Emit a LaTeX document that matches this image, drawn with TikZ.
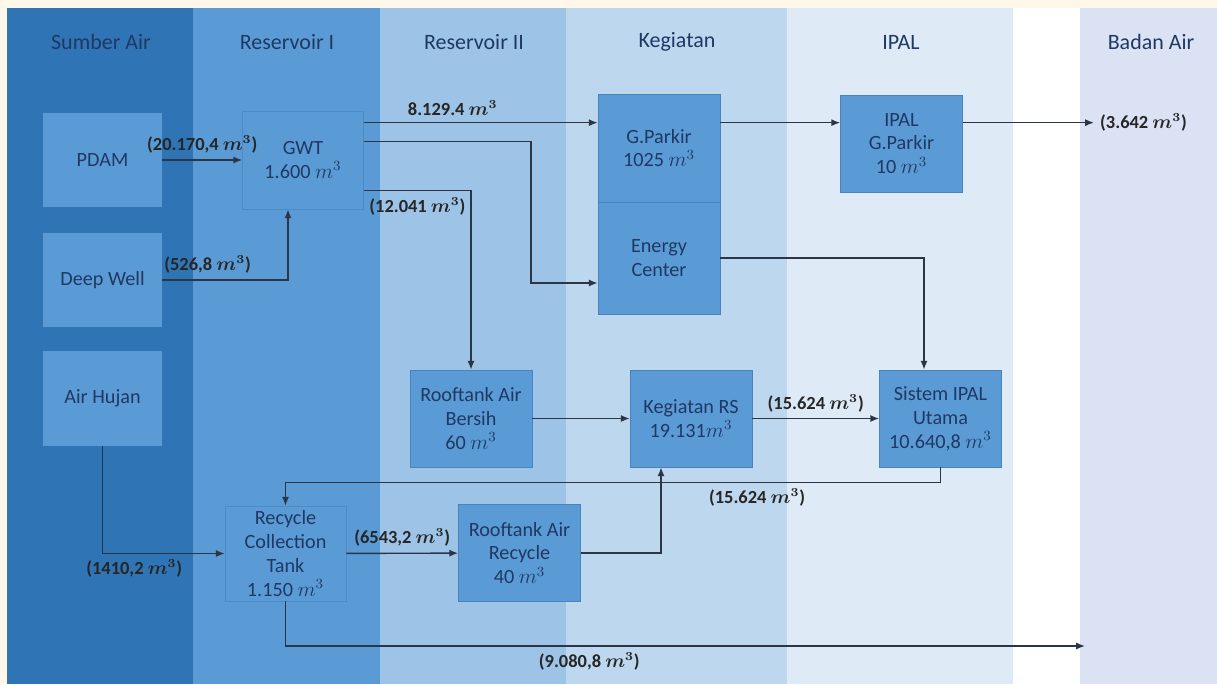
\documentclass[tikz,border=0pt]{standalone}
\usepackage{fontspec}
\setmainfont{Carlito}
\usepackage{tikz}
\usetikzlibrary{positioning, arrows.meta}
\definecolor{cream}{HTML}{FFF8EA}
\definecolor{srcband}{HTML}{2F74B5}
\definecolor{res1band}{HTML}{5B9BD5}
\definecolor{res2band}{HTML}{9DC3E6}
\definecolor{kegband}{HTML}{BDD7EE}
\definecolor{ipalband}{HTML}{DEEBF7}
\definecolor{badanband}{HTML}{DAE2F3}
\definecolor{boxblue}{HTML}{5B9BD5}
\definecolor{tankline}{HTML}{4C8BC9}
\definecolor{unitline}{HTML}{4A83BC}
\definecolor{navytext}{HTML}{1F3864}
\definecolor{flowline}{HTML}{2B3545}

\begin{document}
\begin{tikzpicture}[
  x=0.02cm, y=-0.02cm,
  header/.style={
    font=\fontsize{12.5}{15}\selectfont, text=navytext
  },
  srcbox/.style={
    fill=boxblue, minimum width=2.38cm, minimum height=1.9cm,
    align=center, font=\fontsize{11.5}{13.6}\selectfont,
    text=navytext, inner sep=1pt
  },
  tank/.style={
    draw=tankline, fill=res1band, thin,
    minimum width=2.42cm, minimum height=1.9cm,
    align=center, font=\fontsize{11.5}{13.6}\selectfont,
    text=navytext, inner sep=1pt
  },
  unit/.style={
    draw=unitline, fill=boxblue, thin,
    minimum width=2.44cm, minimum height=1.94cm,
    align=center, font=\fontsize{11.5}{13.6}\selectfont,
    text=navytext, inner sep=1pt
  },
  flow/.style={-{Latex[length=5pt, width=4pt]}, line width=0.8pt, flowline},
  qty/.style={font=\fontsize{10.5}{12.5}\selectfont\bfseries\boldmath, text=black!85}
]

% ---- Latar & kolom ----
\useasboundingbox (0,0) rectangle (1217,684);
\fill[cream] (0,0) rectangle (1217,684);
\fill[srcband] (7,8) rectangle (193,684);
\fill[res1band] (193,8) rectangle (380,684);
\fill[res2band] (380,8) rectangle (566,684);
\fill[kegband] (566,8) rectangle (787,684);
\fill[ipalband] (787,8) rectangle (1013,684);
\fill[white] (1013,8) rectangle (1080,684);
\fill[badanband] (1080,8) rectangle (1217,684);

% ---- Judul kolom ----
\node[header] (hsumber) at (101,42) {Sumber Air};
\node[header] (hres1) at (287,42) {Reservoir I};
\node[header] (hres2) at (474,42) {Reservoir II};
\node[header] (hkeg) at (677,42) {Kegiatan};
\node[header] (hipal) at (901,42) {IPAL};
\node[header] (hbadan) at (1151,42) {Badan Air};

% ---- Sumber air ----
\node[srcbox] (pdam) at (102.5,160) {PDAM};
\node[srcbox] (deep) at (102.5,280) {Deep Well};
\node[srcbox] (hujan) at (102.5,398) {Air Hujan};

% ---- Reservoir ----
\node[tank, minimum height=1.96cm] (gwt) at (303,160) {GWT\\1.600 $m^3$};
\node[tank] (recycle) at (285.5,553.5) {Recycle\\Collection\\Tank\\1.150 $m^3$};
\node[unit] (bersih) at (471,418.5) {Rooftank Air\\Bersih\\60 $m^3$};
\node[unit] (rtrecycle) at (519.5,553) {Rooftank Air\\Recycle\\40 $m^3$};

% ---- Kegiatan ----
\node[unit, minimum height=2.16cm] (gparkir) at (659,148) {G.Parkir\\1025 $m^3$};
\node[unit, minimum height=2.24cm] (energy) at (659,258) {Energy\\Center};
\node[unit] (kegrs) at (691,418.5) {Kegiatan RS\\19.131$m^3$};

% ---- IPAL ----
\node[unit] (ipalgp) at (901.5,143.5) {IPAL\\G.Parkir\\10 $m^3$};
\node[unit] (ipalu) at (940.5,418.5) {Sistem IPAL\\Utama\\10.640,8 $m^3$};

% ---- Badan air ----
\node[qty, anchor=west] (outgp) at (1094,122) {(3.642 $m^3$)};
\coordinate (sink) at (1085,646);

% Titik keluar GWT
\coordinate (g1) at ([yshift=-0.24cm]gwt.north east);
\coordinate (g2) at ([yshift=-0.62cm]gwt.north east);
\coordinate (g3) at ([yshift=-1.6cm]gwt.north east);

% Aliran masuk GWT
\draw[flow] (pdam) -- node[qty, above]{(20.170,4 $m^3$)} (gwt);
\draw[flow] (deep.east)
  -- node[qty, above, pos=0.36]{(526,8 $m^3$)} ([xshift=-0.3cm]gwt.south |- deep.east)
  -- ([xshift=-0.3cm]gwt.south);

% Aliran keluar GWT
\draw[flow] (g1) -- node[qty, above, pos=0.38]{8.129.4 $m^3$} (g1 -| gparkir.west);
\draw[flow] (g2) -- ++(3.34cm,0) |- ([yshift=-0.5cm]energy.west);
\draw[flow] (g3) -| node[qty, below, pos=0.25]{(12.041 $m^3$)} (bersih.north);

% G.Parkir ke IPAL dan badan air
\draw[flow] (g1 -| gparkir.east) -- (g1 -| ipalgp.west);
\draw[flow] (g1 -| ipalgp.east) -- (g1 -| outgp.west);
\draw[flow] (energy.east) -| ([xshift=-0.33cm]ipalu.north);

% Kegiatan RS
\draw[flow] (bersih) -- (kegrs);
\draw[flow] (kegrs) -- node[qty, above]{(15.624 $m^3$)} (ipalu);

% Daur ulang
\draw[flow] (ipalu.south) -- ++(0,-0.3cm) coordinate (c1)
  -- node[qty, below, pos=0.28]{(15.624 $m^3$)} (c1 -| recycle.north)
  -- (recycle.north);
\draw[flow] (hujan.south) |- node[qty, below, pos=0.63]{(1410,2 $m^3$)} (recycle.west);
\draw[flow] (recycle) -- node[qty, above]{(6543,2 $m^3$)} (rtrecycle);
\draw[flow] (rtrecycle.east) -| ([xshift=-0.6cm]kegrs.south);
\draw[flow] (recycle.south) |- node[qty, below, pos=0.69]{(9.080,8 $m^3$)} (sink);

\end{tikzpicture}
\end{document}
